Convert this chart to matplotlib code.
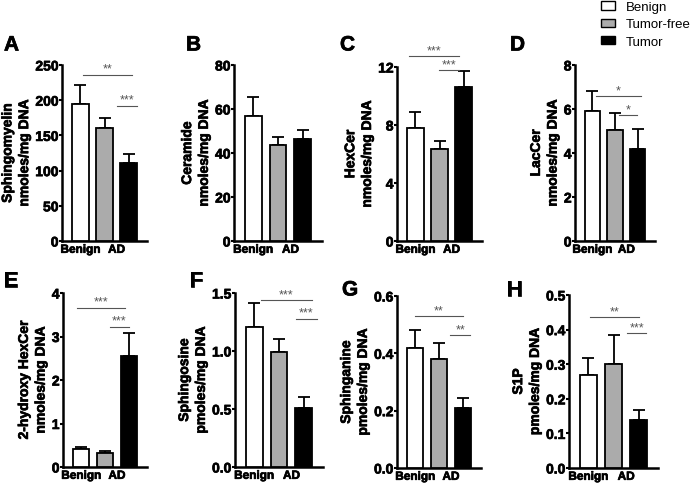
import matplotlib
matplotlib.use("Agg")
import matplotlib.pyplot as plt
import matplotlib.patheffects as pe
from matplotlib.patches import Patch

plt.rcParams['font.family'] = ['Liberation Sans', 'DejaVu Sans']

groups = ['Benign', 'Tumor-free', 'Tumor']
bar_colors = ['white', '#ababab', 'black']
xtick_labels = ['Benign', 'AD']

# panel letter, y label, means, upward errors, y ticks
letters = ['A', 'B', 'C', 'D', 'E', 'F', 'G', 'H']
ylabels = [
    'Sphingomyelin\nnmoles/mg DNA',
    'Ceramide\nnmoles/mg DNA',
    'HexCer\nnmoles/mg DNA',
    'LacCer\nnmoles/mg DNA',
    '2-hydroxy HexCer\nnmoles/mg DNA',
    'Sphingosine\npmoles/mg DNA',
    'Sphinganine\npmoles/mg DNA',
    'S1P\npmoles/mg DNA',
]
means = [
    [195, 161, 111],
    [56.7, 43.8, 46.2],
    [7.79, 6.34, 10.62],
    [5.9, 5.05, 4.2],
    [0.42, 0.32, 2.56],
    [1.21, 0.99, 0.51],
    [0.417, 0.381, 0.21],
    [0.27, 0.30, 0.14],
]
errors = [
    [27, 14, 13],
    [8.6, 3.6, 4.1],
    [1.08, 0.53, 1.11],
    [0.94, 0.78, 0.9],
    [0.05, 0.04, 0.52],
    [0.2, 0.11, 0.09],
    [0.063, 0.054, 0.034],
    [0.049, 0.084, 0.028],
]
yticks = [
    [0, 50, 100, 150, 200, 250],
    [0, 20, 40, 60, 80],
    [0, 4, 8, 12],
    [0, 2, 4, 6, 8],
    [0, 1, 2, 3, 4],
    [0.0, 0.5, 1.0, 1.5],
    [0.0, 0.2, 0.4, 0.6],
    [0.0, 0.1, 0.2, 0.3, 0.4, 0.5],
]
ytick_fmt = ['{:.0f}'] * 5 + ['{:.1f}'] * 3
# significance bars: (x start, x end, y, stars)
sig_bars = [
    [(0.10, 2.15, 236, '**'), (1.52, 2.35, 192, '***')],
    [],
    [(-0.27, 1.81, 12.76, '***'), (0.98, 1.81, 11.79, '***')],
    [(0.15, 2.15, 6.59, '*'), (1.19, 1.98, 5.73, '*')],
    [(-0.19, 1.86, 3.66, '***'), (1.19, 2.02, 3.22, '***')],
    [(0.27, 2.31, 1.44, '***'), (1.69, 2.52, 1.28, '***')],
    [(-0.02, 2.02, 0.53, '**'), (1.48, 2.31, 0.464, '**')],
    [(0.07, 2.03, 0.436, '**'), (1.55, 2.31, 0.39, '***')],
]

W, H = 697, 485
# axes boxes in pixels: left, top, width, height
boxes = [
    (62, 66, 85, 176), (234, 66, 88, 176), (397, 68, 85, 174), (575, 66, 80, 176),
    (63, 294, 84, 174), (235, 294, 88, 174), (397, 297, 84, 172), (569, 296, 89, 173),
]
letter_pos = [(4, 46), (186, 46), (340, 46), (510, 46),
              (4, 282), (190, 282), (342, 291), (507, 291)]

heavy = [pe.withStroke(linewidth=0.5, foreground='black')]

fig = plt.figure(figsize=(W / 100, H / 100), dpi=100)

for i in range(8):
    l, t, w, h = boxes[i]
    ax = fig.add_axes([l / W, 1 - (t + h) / H, w / W, h / H])
    xs = [0, 1, 2]
    ax.bar(xs, means[i], width=0.68, color=bar_colors, edgecolor='black',
           linewidth=1.3, zorder=3)
    ax.errorbar(xs, means[i], yerr=[[0, 0, 0], errors[i]], fmt='none',
                ecolor='black', elinewidth=1.3, capsize=4, capthick=1.3, zorder=2)
    for x0, x1, y, s in sig_bars[i]:
        ax.plot([x0, x1], [y, y], color='#555555', lw=0.8, clip_on=False)
        ax.text((x0 + x1) / 2, y, s, ha='center', va='bottom', fontsize=9,
                color='#555555')
    ax.set_xlim(-0.77, 2.77)
    ax.set_ylim(yticks[i][0], yticks[i][-1])
    ax.set_yticks(yticks[i])
    ax.set_yticklabels([ytick_fmt[i].format(v) for v in yticks[i]],
                       fontsize=10, fontweight='bold')
    ax.set_xticks([0, 1.5])
    ax.set_xticklabels(xtick_labels, fontsize=8.5, fontweight='bold')
    ax.tick_params(axis='x', length=0, pad=2)
    ax.tick_params(axis='y', length=2.2, width=1.5, pad=0.3)
    for lab in ax.get_yticklabels() + ax.get_xticklabels():
        lab.set_path_effects(heavy)
    ax.set_ylabel(ylabels[i], fontsize=10, fontweight='bold', labelpad=3,
                  linespacing=1.25, path_effects=heavy)
    for side in ['top', 'right']:
        ax.spines[side].set_visible(False)
    for side in ['left', 'bottom']:
        ax.spines[side].set_linewidth(1.8)
    lx, ly = letter_pos[i]
    fig.text(lx / W, 1 - ly / H, letters[i], fontsize=15, fontweight='bold',
             va='center', ha='left', path_effects=heavy)

handles = [Patch(facecolor=c, edgecolor='black', linewidth=1.0) for c in bar_colors]
fig.legend(handles, groups, loc='upper right', bbox_to_anchor=(1.008, 1.02),
           frameon=False, fontsize=9.5, handlelength=1.1, handleheight=0.6,
           labelspacing=0.4, handletextpad=0.8)

fig.savefig('out.png', dpi=100)
